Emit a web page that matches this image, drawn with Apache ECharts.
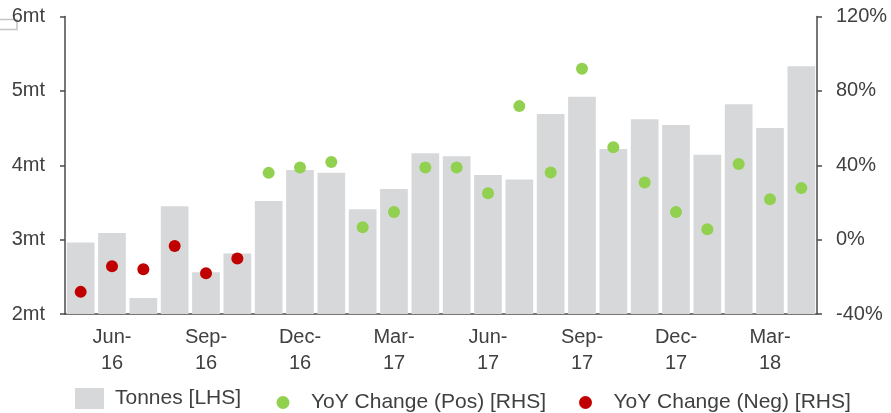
<!DOCTYPE html>
<html>
<head>
<meta charset="utf-8">
<script src="https://cdn.jsdelivr.net/npm/echarts@6/dist/echarts.min.js"></script>
<style>
  html, body { margin: 0; padding: 0; background: #fff; }
  #chart { width: 891px; height: 413px; }
</style>
</head>
<body>
<div id="chart"></div>
<script>
// Monthly categories, May-16 through Apr-18
const months = [
  'May-16', 'Jun-16', 'Jul-16', 'Aug-16', 'Sep-16', 'Oct-16', 'Nov-16', 'Dec-16',
  'Jan-17', 'Feb-17', 'Mar-17', 'Apr-17', 'May-17', 'Jun-17', 'Jul-17', 'Aug-17',
  'Sep-17', 'Oct-17', 'Nov-17', 'Dec-17', 'Jan-18', 'Feb-18', 'Mar-18', 'Apr-18'
];

// Monthly volume, million tonnes (left axis)
const tonnes = [
  2.96, 3.09, 2.215, 3.45, 2.56, 2.815, 3.52, 3.935,
  3.90, 3.41, 3.68, 4.16, 4.12, 3.87, 3.81, 4.69,
  4.92, 4.22, 4.62, 4.54, 4.14, 4.82, 4.50, 5.33
];

// Year-on-year change, percent (right axis)
const yoyChange = [
  -28.1, -14.3, -15.9, -3.4, -18.1, -10.2, 35.9, 38.8,
  41.8, 6.7, 14.9, 38.8, 38.8, 25.0, 71.8, 36.1,
  91.9, 49.7, 30.7, 14.9, 5.6, 40.7, 21.7, 27.7
];

// Axis ranges
const leftTicks = { min: 2, max: 6, interval: 1 };
const rightTicks = { min: -40, max: 120, interval: 40 };

const seriesNames = ['Tonnes [LHS]', 'YoY Change (Pos) [RHS]', 'YoY Change (Neg) [RHS]'];

const yoyPos = yoyChange.map(v => (v >= 0 ? v : null));
const yoyNeg = yoyChange.map(v => (v < 0 ? v : null));

const textColor = '#404040';
const axisColor = '#4a4a4a';
const fontFamily = 'Liberation Sans, Arial, sans-serif';

const chart = echarts.init(document.getElementById('chart'), null, { renderer: 'canvas' });

const legendText = { fontSize: 21, color: textColor, fontFamily: fontFamily, padding: [0, 0, 0, 6] };

chart.setOption({
  animation: false,
  backgroundColor: '#ffffff',
  grid: { left: 65, right: 74, top: 16.5, bottom: 99 },
  graphic: [{
    type: 'rect',
    shape: { x: -5, y: 19.5, width: 22, height: 10 },
    style: { fill: 'none', stroke: '#c4c4c4', lineWidth: 1.5 },
    z: -1
  }],
  legend: [
    {
      data: [seriesNames[0]],
      left: 75, top: 388, padding: 0,
      itemWidth: 29, itemHeight: 21,
      icon: 'rect',
      textStyle: legendText
    },
    {
      data: [seriesNames[1]],
      left: 276.5, top: 392, padding: 0,
      itemWidth: 34, itemHeight: 13,
      icon: 'circle',
      textStyle: legendText
    },
    {
      data: [seriesNames[2]],
      left: 579, top: 392, padding: 0,
      itemWidth: 34, itemHeight: 13,
      icon: 'circle',
      textStyle: legendText
    }
  ],
  xAxis: {
    type: 'category',
    data: months,
    axisLine: { show: true, onZero: false, lineStyle: { color: axisColor, width: 1.5 } },
    axisTick: { show: false },
    axisLabel: {
      interval: (index) => index % 3 === 1,
      formatter: (v) => v.replace('-', '-\n'),
      color: textColor,
      fontSize: 20,
      fontFamily: fontFamily,
      lineHeight: 26,
      margin: 10
    },
    splitLine: { show: false }
  },
  yAxis: [
    {
      type: 'value',
      position: 'left',
      min: leftTicks.min, max: leftTicks.max, interval: leftTicks.interval,
      axisLine: { show: true, onZero: false, lineStyle: { color: axisColor, width: 1.5 } },
      axisTick: { show: true, inside: false, length: 5, lineStyle: { color: axisColor, width: 1.5 } },
      axisLabel: {
        formatter: '{value}mt',
        color: textColor, fontSize: 20, fontFamily: fontFamily, margin: 20
      },
      splitLine: { show: false }
    },
    {
      type: 'value',
      position: 'right',
      min: rightTicks.min, max: rightTicks.max, interval: rightTicks.interval,
      axisLine: { show: true, onZero: false, lineStyle: { color: axisColor, width: 1.5 } },
      axisTick: { show: true, inside: false, length: 5, lineStyle: { color: axisColor, width: 1.5 } },
      axisLabel: {
        formatter: '{value}%',
        color: textColor, fontSize: 20, fontFamily: fontFamily, margin: 19
      },
      splitLine: { show: false }
    }
  ],
  series: [
    {
      name: seriesNames[0],
      type: 'bar',
      yAxisIndex: 0,
      data: tonnes,
      barCategoryGap: '11.6%',
      itemStyle: { color: '#d7d8da', opacity: 1 },
      z: 1
    },
    {
      name: seriesNames[1],
      type: 'scatter',
      yAxisIndex: 1,
      data: yoyPos,
      symbol: 'circle',
      symbolSize: 12,
      itemStyle: { color: '#92d050', opacity: 1 },
      z: 3
    },
    {
      name: seriesNames[2],
      type: 'scatter',
      yAxisIndex: 1,
      data: yoyNeg,
      symbol: 'circle',
      symbolSize: 12,
      itemStyle: { color: '#c00000', opacity: 1 },
      z: 3
    }
  ]
});
</script>
</body>
</html>
